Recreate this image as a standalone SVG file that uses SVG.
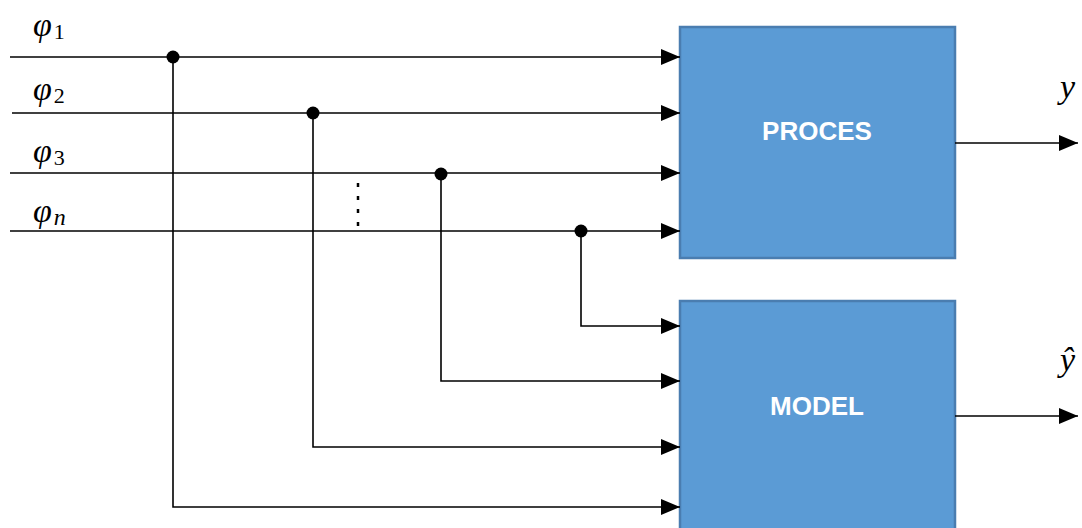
<svg xmlns="http://www.w3.org/2000/svg" width="1082" height="528" viewBox="0 0 1082 528">
<defs>
<marker id="ah" markerWidth="19" markerHeight="16" refX="19" refY="8" orient="auto" markerUnits="userSpaceOnUse">
<path d="M0,0 L19,8 L0,16 Z" fill="#000"/>
</marker>
<style>
.ln{stroke:#000;stroke-width:1.6;fill:none}
.ar{stroke:#000;stroke-width:1.6;fill:none;marker-end:url(#ah)}
.box{fill:#5B9BD5;stroke:#4A7DB0;stroke-width:2.5}
.bt{font-family:"Liberation Sans",Arial,sans-serif;font-weight:bold;font-size:26px;fill:#fff;text-anchor:middle}
.m{font-family:"Liberation Serif","DejaVu Serif",serif;font-style:italic;font-size:34px;fill:#000}
.sub{font-family:"Liberation Serif","DejaVu Serif",serif;font-style:normal;font-size:22px;fill:#000}
.subi{font-family:"Liberation Serif","DejaVu Serif",serif;font-style:italic;font-size:24px;fill:#000}
</style>
</defs>
<g id="proces">
<rect class="box" x="680" y="27" width="275" height="231"/>
<text class="bt" x="817" y="140">PROCES</text>
</g>
<g id="model">
<rect class="box" x="680" y="301" width="275" height="240"/>
<text class="bt" x="817" y="415">MODEL</text>
</g>
<g id="labels">
<text class="m" x="33" y="36">φ<tspan class="sub" dx="2" dy="3">1</tspan></text>
<text class="m" x="33" y="100">φ<tspan class="sub" dx="2" dy="3">2</tspan></text>
<text class="m" x="33" y="162">φ<tspan class="sub" dx="2" dy="3">3</tspan></text>
<text class="m" x="33" y="222">φ<tspan class="subi" dx="2" dy="3">n</tspan></text>
<text class="m" x="1060" y="98">y</text>
<text class="m" x="1060" y="371">ŷ</text>
</g>
<g id="connectors">
<path class="ar" d="M10,57 H680"/>
<path class="ar" d="M12,113 H680"/>
<path class="ar" d="M10,173 H680"/>
<path class="ar" d="M10,231 H680"/>
<path class="ar" d="M173,57 V507 H680"/>
<path class="ar" d="M313,113 V447 H680"/>
<path class="ar" d="M441,173 V381 H680"/>
<path class="ar" d="M581,231 V326 H680"/>
<path class="ar" d="M955,143 H1078"/>
<path class="ar" d="M955,416 H1078"/>
<path d="M358,183 V228" stroke="#000" stroke-width="2.5" stroke-dasharray="4,9"/>
<circle cx="173" cy="57" r="6.5"/>
<circle cx="313" cy="113" r="6.5"/>
<circle cx="441" cy="174" r="6.5"/>
<circle cx="581" cy="231" r="6.5"/>
</g>
</svg>
